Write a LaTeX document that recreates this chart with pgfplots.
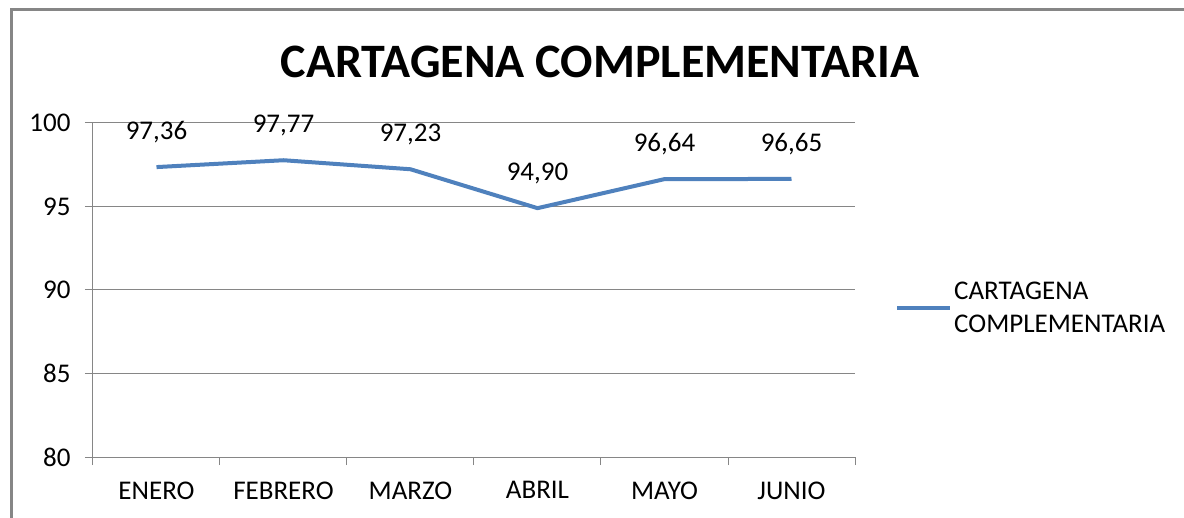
\documentclass[border=0pt]{standalone}
\usepackage{pgfplots}
\pgfplotsset{compat=1.18}
\usepackage{fontspec}
\setmainfont{Carlito}
\definecolor{xlblue}{RGB}{79,129,189}
\definecolor{framec}{RGB}{134,134,134}
\definecolor{gridc}{RGB}{134,134,134}
\begin{document}
\begin{tikzpicture}[x=1pt,y=1pt]
\useasboundingbox (0,0) rectangle (1184,517);
\draw[framec, line width=3pt] (11,-5) -- (11,507) -- (1190,507);
\node[font=\fontsize{48}{54}\selectfont\bfseries] at (600,455) {CARTAGENA COMPLEMENTARIA};
\begin{axis}[
 at={(93pt,60pt)}, anchor=south west,
 scale only axis, width=762pt, height=334pt,
 xmin=0, xmax=6, ymin=80, ymax=100,
 xtick={0,...,6}, xticklabels={ENERO,FEBRERO,MARZO,ABRIL,MAYO,JUNIO},
 x tick label as interval,
 ytick={80,85,90,95,100},
 axis x line*=bottom, axis y line*=left,
 axis line style={gridc, line width=1pt, -},
 ymajorgrids, grid style={gridc, line width=1pt},
 tick style={gridc, line width=1pt},
 tick align=outside, major tick length=8pt,
 ticklabel style={font=\fontsize{27}{32}\selectfont},
 /pgf/number format/assume math mode=true,
 yticklabel style={xshift=-11pt},
 xticklabel style={yshift=-13pt},
 legend style={at={(axis description cs:1.0,0.446)}, anchor=west, draw=none, fill=none,
   font=\fontsize{27}{33}\selectfont, nodes={align=left}, inner sep=0pt, xshift=40pt},
 legend cell align=left,
 legend image code/.code={\draw[#1, line width=4pt] (0pt,0pt) -- (53pt,0pt);},
 nodes near coords={\pgfmathprintnumber[fixed,fixed zerofill,precision=2,use comma,assume math mode=true]{\pgfplotspointmeta}},
 every node near coord/.append style={anchor=center, yshift=35pt, font=\fontsize{27}{32}\selectfont, text=black},
]
\addplot[xlblue, line width=4pt, mark=none] coordinates {
 (0.5,97.36) (1.5,97.77) (2.5,97.23) (3.5,94.90) (4.5,96.64) (5.5,96.65)
};
\addlegendentry{CARTAGENA\\COMPLEMENTARIA}
\end{axis}
\end{tikzpicture}
\end{document}
